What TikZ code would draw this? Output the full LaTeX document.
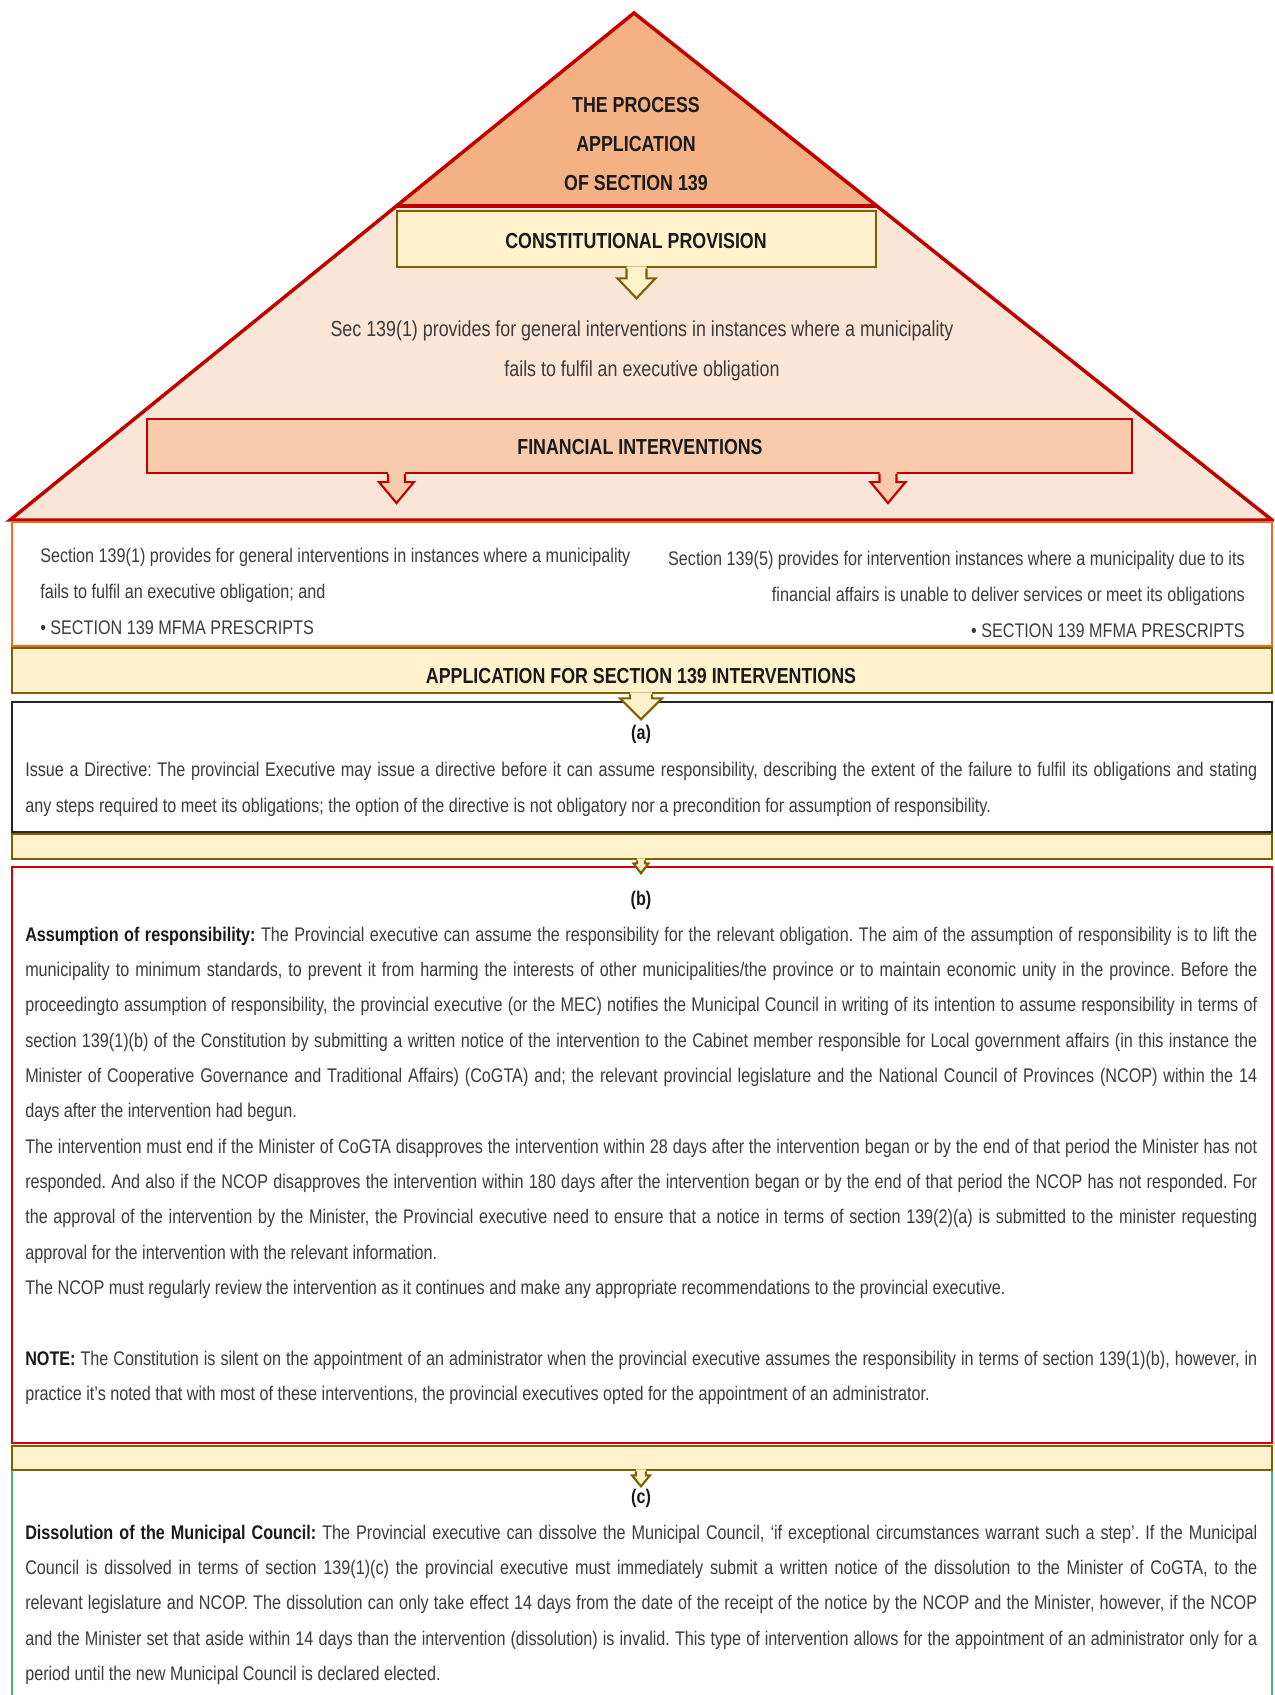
\documentclass[tikz,border=0pt]{standalone}
\usepackage{fontspec}
\setmainfont{Liberation Sans}[FakeStretch=0.82]
\usetikzlibrary{calc}
\frenchspacing

\definecolor{peachtop}{HTML}{F4B183}
\definecolor{peachlow}{HTML}{FBE5D6}
\definecolor{peachbox}{HTML}{F8CBAD}
\definecolor{redline}{HTML}{C00000}
\definecolor{brightred}{HTML}{D40000}
\definecolor{ylwfill}{HTML}{FFF2CC}
\definecolor{oliveline}{HTML}{7F6000}
\definecolor{orangeline}{HTML}{F26B1D}
\definecolor{greenline}{HTML}{3DBE6E}
\definecolor{darkline}{HTML}{262626}
\definecolor{bodytext}{HTML}{3C3C3C}
\definecolor{headtext}{HTML}{1A1A1A}

% one pixel of the layout grid
\newcommand\pxu{0.75pt}
% a block of stacked lines #2 of width #1; its baseline is that of the first line
\newcommand\textblock[2]{\vtop{\hsize=#1\relax\parindent=0pt #2}}
% fixed line breaks: justified, left, right and centred lines
\newcommand\jline[1]{\hbox to\hsize{#1}}
\newcommand\lline[1]{\hbox to\hsize{#1\hfil}}
\newcommand\rline[1]{\hbox to\hsize{\hfil#1}}
\newcommand\midline[1]{\hbox to\hsize{\hfil#1\hfil}}
\newcommand\leadin[1]{\textcolor{headtext}{\textbf{#1}}}

% block arrow hanging below a point:
% #1 point, #2 shaft half-width, #3 head half-width, #4 head top, #5 tip, #6 fill, #7 outline
\newcommand\dnarrow[7]{%
  \begin{scope}[shift={(#1)}]
    \fill[#6] (-#2,-2) -- (-#2,#4) -- (-#3,#4) -- (0,#5) -- (#3,#4) -- (#2,#4) -- (#2,-2) -- cycle;
    \draw[#7, line width=1.6pt, line join=miter]
      (-#2,0) -- (-#2,#4) -- (-#3,#4) -- (0,#5) -- (#3,#4) -- (#2,#4) -- (#2,0);
  \end{scope}}

\tikzset{
  ybox/.style={draw=oliveline, fill=ylwfill, line width=2pt, inner sep=0pt},
  finbox/.style={draw=redline, fill=peachbox, line width=1.6pt, inner sep=0pt},
  obox/.style={draw=orangeline, fill=white, line width=1.5pt, inner sep=0pt},
  kbox/.style={draw=darkline, fill=white, line width=2pt, inner sep=0pt},
  rbox/.style={draw=brightred, fill=white, line width=1.6pt, inner sep=0pt},
  gbox/.style={draw=greenline, fill=white, line width=1.6pt, inner sep=0pt},
  headfont/.style={font=\fontsize{16.3}{29.25}\selectfont\bfseries, text=headtext, inner sep=0pt},
  midfont/.style={font=\fontsize{16.35}{30}\selectfont, text=bodytext, inner sep=0pt},
  bodyfont/.style={font=\fontsize{14.8}{26.5}\selectfont, text=bodytext, inner sep=0pt},
  widefont/.style={font=\fontsize{14.8}{27}\selectfont, text=bodytext, inner sep=0pt},
  labelfont/.style={font=\fontsize{14.8}{18}\selectfont\bfseries, text=headtext, inner sep=0pt},
}

\begin{document}
\begin{tikzpicture}[x=\pxu, y=-\pxu]
  \useasboundingbox (0,0) rectangle (1274,1695);
  \clip (0,0) rectangle (1274,1695);
  \fill[white] (0,0) rectangle (1274,1695);

  % pyramid
  \coordinate (apex) at (634,13);
  \coordinate (bl) at (10,520);
  \coordinate (br) at (1272,520);
  \coordinate (tl) at ($(apex)!0.3807!(bl)$);
  \coordinate (tr) at ($(apex)!0.3807!(br)$);
  \fill[peachlow] (apex) -- (bl) -- (br) -- cycle;
  \fill[peachtop] (apex) -- (tl) -- (tr) -- cycle;
  \draw[redline, line width=2.6pt, line join=miter] (apex) -- (bl) -- (br) -- cycle;
  \draw[redline, line width=2.6pt] (tl) -- (tr);

  % boxes
  \node[obox, minimum width=1260*\pxu, minimum height=124*\pxu] (sources) at (642,584) {};
  \node[ybox, minimum width=479*\pxu, minimum height=56*\pxu] (cp) at (636.5,239) {};
  \node[finbox, minimum width=985*\pxu, minimum height=54*\pxu] (fin) at (639.5,446) {};
  \node[ybox, minimum width=1260*\pxu, minimum height=45*\pxu] (app) at (642,670.5) {};
  \node[kbox, minimum width=1260*\pxu, minimum height=130*\pxu] (boxa) at (642,767) {};
  \node[ybox, minimum width=1260*\pxu, minimum height=25*\pxu] (bar1) at (642,846.5) {};
  \node[rbox, minimum width=1260*\pxu, minimum height=576*\pxu] (boxb) at (642,1155) {};
  \node[gbox, minimum width=1260*\pxu, minimum height=270*\pxu] (boxc) at (642,1581) {};
  \node[ybox, minimum width=1260*\pxu, minimum height=24*\pxu] (bar2) at (642,1458) {};

  % block arrows
  \dnarrow{cp.south}{10}{19}{10}{30}{ylwfill}{oliveline}
  \dnarrow{$(fin.south)+(-243,0)$}{8.5}{17.5}{8}{29}{peachbox}{redline}
  \dnarrow{$(fin.south)+(248.5,0)$}{8.5}{17.5}{8}{29}{peachbox}{redline}
  \dnarrow{$(app.south)+(-1,0)$}{11}{21}{4}{25}{ylwfill}{oliveline}
  \dnarrow{$(bar1.south)+(-1,0)$}{4}{7.5}{3}{13}{ylwfill}{oliveline}
  \dnarrow{$(bar2.south)+(-1,0)$}{5}{9}{4}{15}{ylwfill}{oliveline}

  % pyramid texts
  \node[headfont, anchor=base] (title) at (636,113)
    {\textblock{300pt}{\midline{THE PROCESS}\midline{APPLICATION}\midline{OF SECTION 139}}};
  \node[headfont, anchor=base] (cpT) at (636,248) {CONSTITUTIONAL PROVISION};
  \node[midfont, anchor=base] (secT) at (642,336)
    {\textblock{570pt}{\midline{Sec 139(1) provides for general interventions in instances where a municipality}%
     \midline{fails to fulfil an executive obligation}}};
  \node[headfont, anchor=base] (finT) at (640,454) {FINANCIAL INTERVENTIONS};

  % the two sources
  \node[widefont, anchor=base west] (leftT) at (40,562)
    {\textblock{465pt}{\lline{Section 139(1) provides for general interventions in instances where a municipality}%
     \lline{fails to fulfil an executive obligation; and}%
     \lline{• SECTION 139 MFMA PRESCRIPTS}}};
  \node[widefont, anchor=base east] (rightT) at (1245,565)
    {\textblock{465pt}{\rline{Section 139(5) provides for intervention instances where a municipality due to its}%
     \rline{financial affairs is unable to deliver services or meet its obligations}%
     \rline{• SECTION 139 MFMA PRESCRIPTS}}};

  \node[headfont, anchor=base] (appT) at (641,683) {APPLICATION FOR SECTION 139 INTERVENTIONS};

  % (a)
  \node[labelfont, anchor=base] (aL) at (641,739) {(a)};
  \node[widefont, anchor=base west] (aT) at (25,776)
    {\textblock{924pt}{\jline{Issue a Directive: The provincial Executive may issue a directive before it can assume responsibility, describing the extent of the failure to fulfil its obligations and stating}%
     \lline{any steps required to meet its obligations; the option of the directive is not obligatory nor a precondition for assumption of responsibility.}}};

  % (b)
  \node[labelfont, anchor=base] (bL) at (641,905) {(b)};
  \node[bodyfont, anchor=base west] (bT) at (25,941)
    {\textblock{924pt}{\jline{\leadin{Assumption of responsibility:} The Provincial executive can assume the responsibility for the relevant obligation. The aim of the assumption of responsibility is to lift the}%
     \jline{municipality to minimum standards, to prevent it from harming the interests of other municipalities/the province or to maintain economic unity in the province. Before the}%
     \jline{proceedingto assumption of responsibility, the provincial executive (or the MEC) notifies the Municipal Council in writing of its intention to assume responsibility in terms of}%
     \jline{section 139(1)(b) of the Constitution by submitting a written notice of the intervention to the Cabinet member responsible for Local government affairs (in this instance the}%
     \jline{Minister of Cooperative Governance and Traditional Affairs) (CoGTA) and; the relevant provincial legislature and the National Council of Provinces (NCOP) within the 14}%
     \lline{days after the intervention had begun.}%
     \jline{The intervention must end if the Minister of CoGTA disapproves the intervention within 28 days after the intervention began or by the end of that period the Minister has not}%
     \jline{responded. And also if the NCOP disapproves the intervention within 180 days after the intervention began or by the end of that period the NCOP has not responded. For}%
     \jline{the approval of the intervention by the Minister, the Provincial executive need to ensure that a notice in terms of section 139(2)(a) is submitted to the minister requesting}%
     \lline{approval for the intervention with the relevant information.}%
     \lline{The NCOP must regularly review the intervention as it continues and make any appropriate recommendations to the provincial executive.}%
     \hbox{}%
     \jline{\leadin{NOTE:} The Constitution is silent on the appointment of an administrator when the provincial executive assumes the responsibility in terms of section 139(1)(b), however, in}%
     \lline{practice it’s noted that with most of these interventions, the provincial executives opted for the appointment of an administrator.}}};

  % (c)
  \node[labelfont, anchor=base] (cL) at (641,1503) {(c)};
  \node[bodyfont, anchor=base west] (cT) at (25,1539)
    {\textblock{924pt}{\jline{\leadin{Dissolution of the Municipal Council:} The Provincial executive can dissolve the Municipal Council, ‘if exceptional circumstances warrant such a step’. If the Municipal}%
     \jline{Council is dissolved in terms of section 139(1)(c) the provincial executive must immediately submit a written notice of the dissolution to the Minister of CoGTA, to the}%
     \jline{relevant legislature and NCOP. The dissolution can only take effect 14 days from the date of the receipt of the notice by the NCOP and the Minister, however, if the NCOP}%
     \jline{and the Minister set that aside within 14 days than the intervention (dissolution) is invalid. This type of intervention allows for the appointment of an administrator only for a}%
     \lline{period until the new Municipal Council is declared elected.}}};
\end{tikzpicture}
\end{document}
